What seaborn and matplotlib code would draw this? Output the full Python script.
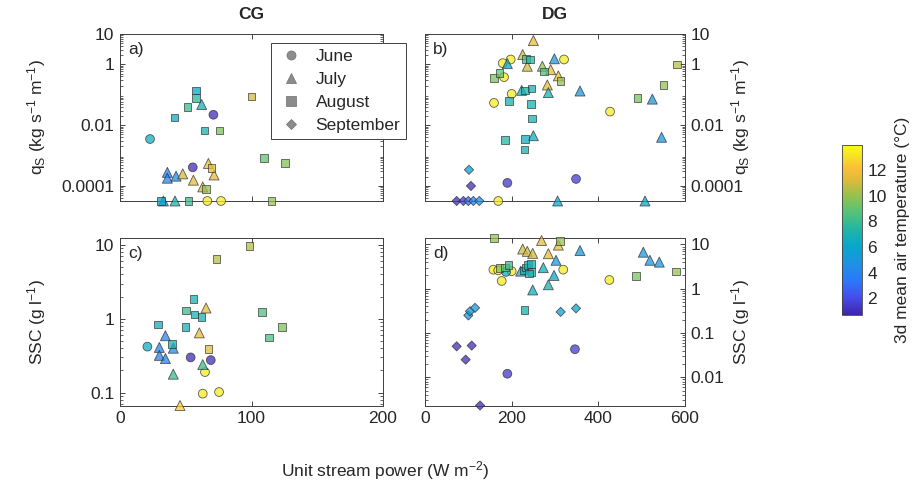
import numpy as np
import pandas as pd
import matplotlib
matplotlib.use("Agg")
import matplotlib.pyplot as plt
import seaborn as sns
from matplotlib.colors import LinearSegmentedColormap, Normalize
from matplotlib.cm import ScalarMappable
from matplotlib.lines import Line2D
from matplotlib.ticker import LogLocator, NullFormatter, FixedLocator, FixedFormatter

# ---------------- data ----------------
QS_FLOOR = 3.2e-5     # points drawn on the lower axis edge
SSC_D_FLOOR = 2.3e-3
SSC_D_CEIL = 14.0

months = ["June", "July", "August", "September"]

# a) CG, q_S
cg_qs_x = [22.8, 71, 55.3, 66.4, 76.8,
           62.1, 36, 36, 42.6, 47.7, 55.8, 67.2, 71.5, 62.9, 33, 41.8,
           57.8, 57.8, 51.2, 41.3, 64.1, 75.5, 100.1, 109.5, 125.5, 69.7, 65.4, 31.2, 52, 115.3]
cg_qs_y = [0.0035, 0.022, 0.00041, QS_FLOOR, QS_FLOOR,
           0.048, 0.00028, 0.00018, 0.00021, 0.00025, 0.000155, 0.00055, 0.00023, 0.000093, QS_FLOOR, QS_FLOOR,
           0.139, 0.079, 0.039, 0.018, 0.0066, 0.0066, 0.087, 0.00083, 0.00057, 0.00039, 0.000078, QS_FLOOR, QS_FLOOR, QS_FLOOR]
cg_qs_t = [6.5, 1.0, 1.0, 13.4, 13.4,
           7.0, 4.0, 4.0, 4.5, 11.0, 11.5, 11.5, 11.5, 11.0, 5.0, 7.0,
           6.0, 7.5, 8.0, 6.5, 7.0, 9.5, 11.0, 9.0, 9.5, 11.5, 10.0, 6.0, 8.0, 10.0]
cg_qs_m = ["June"] * 5 + ["July"] * 11 + ["August"] * 14

# c) CG, SSC
cg_ssc_x = [20.8, 53.7, 69, 64.6, 62.9, 75.3,
            65.4, 60.3, 34.5, 29.9, 40.5, 29.9, 34.5, 62.9, 40.5, 45.6,
            98.4, 73.5, 55.8, 50.2, 56.5, 62.1, 28.7, 49.7, 39.5, 67.4, 107.8, 123, 113.5]
cg_ssc_y = [0.42, 0.30, 0.276, 0.19, 0.097, 0.102,
            1.4, 0.645, 0.59, 0.41, 0.40, 0.32, 0.29, 0.24, 0.178, 0.067,
            9.7, 6.4, 1.85, 1.3, 1.14, 1.06, 0.84, 0.78, 0.46, 0.39, 1.24, 0.77, 0.56]
cg_ssc_t = [6.5, 1.0, 1.0, 13.4, 13.4, 13.4,
            11.5, 11.5, 4.0, 4.0, 4.5, 4.0, 4.0, 8.0, 8.0, 12.5,
            10.5, 10.5, 7.0, 8.0, 7.0, 7.0, 6.5, 7.0, 7.0, 11.5, 8.5, 9.5, 8.5]
cg_ssc_m = ["June"] * 6 + ["July"] * 10 + ["August"] * 13

# b) DG, q_S
dg_qs_x = [179.3, 197.7, 320.8, 182.3, 200, 159.2, 427, 190, 348.5, 169,
           250, 225.4, 190, 236, 270.8, 290, 298.5, 307.7, 282.3, 284.6, 357.7, 223, 250, 524.6, 546, 306, 507.7,
           233, 242, 274.6, 159, 171.5, 313, 230.8, 246, 193.8, 244.6, 246.2, 184.6, 230.8, 229.2, 490, 550, 582,
           101.5, 106, 73, 88.5, 100, 111.5, 125.3]
dg_qs_y = [1.1, 1.45, 1.45, 0.38, 0.107, 0.054, 0.028, 0.000126, 0.00017, QS_FLOOR,
           6.1, 2.1, 1.06, 0.87, 0.87, 0.67, 1.53, 0.42, 0.21, 0.118, 0.133, 0.14, 0.0045, 0.072, 0.004, QS_FLOOR, QS_FLOOR,
           1.5, 1.45, 0.59, 0.35, 0.52, 0.29, 0.14, 0.16, 0.061, 0.05, 0.0167, 0.0032, 0.0035, 0.0016, 0.078, 0.21, 0.99,
           0.00034, 0.0001, QS_FLOOR, QS_FLOOR, QS_FLOOR, QS_FLOOR, QS_FLOOR]
dg_qs_t = [13.4, 13.4, 13.4, 13.4, 13.4, 13.4, 13.4, 1.3, 1.5, 13.4,
           11.5, 11.0, 6.0, 11.0, 10.0, 11.5, 5.0, 11.5, 11.5, 7.0, 5.0, 7.0, 6.5, 5.0, 5.0, 6.0, 6.0,
           8.0, 7.5, 8.5, 9.5, 9.0, 10.0, 7.0, 7.0, 7.0, 7.0, 7.0, 7.5, 6.5, 7.0, 9.5, 10.0, 10.5,
           5.5, 1.0, 1.0, 1.5, 3.0, 4.0, 4.5]
dg_qs_m = ["June"] * 10 + ["July"] * 17 + ["August"] * 17 + ["September"] * 7

# d) DG, SSC
dg_ssc_x = [157.7, 169, 177, 200, 187, 319, 425.4, 346, 190,
            225.4, 236, 248.5, 269, 307.7, 284.6, 302.3, 357.7, 503.8, 519, 540.7, 220.8, 248.5, 273, 284.6, 297.7,
            159.2, 311.5, 171.5, 184.6, 192.3, 227, 233, 238, 244, 246, 240, 229.2, 487, 579,
            313, 348.5, 100, 103.8, 115.4, 73, 107.7, 93.8, 127]
dg_ssc_y = [2.7, 2.6, 1.5, 2.5, 2.4, 2.7, 1.58, 0.043, 0.012,
            7.9, 7.0, 6.3, 12.3, 9.7, 6.2, 4.4, 7.3, 6.7, 4.4, 4.0, 2.5, 0.94, 3.0, 1.23, 2.0,
            SSC_D_CEIL, 12.0, 2.95, 3.0, 3.4, 2.6, 3.0, 3.4, 3.6, 2.4, 2.2, 0.33, 1.96, 2.46,
            0.30, 0.36, 0.25, 0.31, 0.37, 0.05, 0.052, 0.025, SSC_D_FLOOR]
dg_ssc_t = [13.4, 13.4, 13.4, 13.4, 6.5, 13.4, 13.4, 1.5, 1.3,
            11.0, 11.0, 11.0, 11.5, 11.5, 11.5, 5.0, 5.0, 5.0, 5.0, 5.0, 6.5, 6.5, 6.5, 7.0, 6.0,
            10.0, 10.0, 9.5, 9.0, 8.0, 7.0, 7.0, 7.0, 7.0, 7.5, 7.0, 7.0, 9.5, 10.0,
            5.5, 6.0, 5.0, 5.0, 5.0, 1.0, 1.0, 1.0, 1.0]
dg_ssc_m = ["June"] * 9 + ["July"] * 16 + ["August"] * 14 + ["September"] * 9

temp_ticks = [2, 4, 6, 8, 10, 12]
temp_range = (0.7, 13.95)

# ---------------- style ----------------
sns.set_theme(style="ticks")
plt.rcParams["font.family"] = ["Liberation Sans", "DejaVu Sans"]
plt.rcParams["mathtext.fontset"] = "custom"
plt.rcParams["mathtext.rm"] = "Liberation Sans"
plt.rcParams["mathtext.it"] = "Liberation Sans:italic"
plt.rcParams["mathtext.default"] = "regular"
FS = 12.5
TXT = "#262626"

parula = LinearSegmentedColormap.from_list("parula", [
    (0.00, (0.2422, 0.1504, 0.6603)),
    (0.10, (0.2770, 0.2980, 0.9300)),
    (0.20, (0.1700, 0.4700, 0.9800)),
    (0.30, (0.1200, 0.5700, 0.8900)),
    (0.40, (0.0300, 0.6500, 0.8000)),
    (0.50, (0.1200, 0.7100, 0.6500)),
    (0.60, (0.3200, 0.7600, 0.4800)),
    (0.70, (0.5800, 0.7600, 0.3100)),
    (0.80, (0.8800, 0.7300, 0.2200)),
    (0.87, (0.9900, 0.7500, 0.2200)),
    (0.94, (0.9600, 0.8900, 0.1500)),
    (1.00, (0.9769, 0.9839, 0.0805)),
])
norm = Normalize(*temp_range)

MARK = {"June": "o", "July": "^", "August": "s", "September": "D"}
SIZE = {"June": 40, "July": 52, "August": 30, "September": 22}

fig = plt.figure(figsize=(9.17, 4.92), dpi=100)
ax_a = fig.add_axes([0.1309, 0.5915, 0.2868, 0.3394])
ax_b = fig.add_axes([0.4635, 0.5915, 0.2835, 0.3394])
ax_c = fig.add_axes([0.1309, 0.1758, 0.2868, 0.3404])
ax_d = fig.add_axes([0.4635, 0.1758, 0.2835, 0.3404])
cax = fig.add_axes([0.918, 0.3598, 0.0225, 0.3455])


def draw(ax, x, y, t, m):
    df = pd.DataFrame({"x": x, "y": y, "t": t, "m": m})
    for mo in months:
        sub = df[df["m"] == mo]
        if len(sub) == 0:
            continue
        sns.scatterplot(data=sub, x="x", y="y", hue="t", palette=parula, hue_norm=norm,
                        marker=MARK[mo], s=SIZE[mo], edgecolor="#2a2a2a", linewidth=0.6,
                        alpha=0.75, legend=False, ax=ax, clip_on=False, zorder=3)


def style(ax, xlim, xticks, ylim, yticks, ylabels, right=False, xlab=True):
    ax.set_yscale("log")
    ax.set_xlim(*xlim)
    ax.set_ylim(*ylim)
    ax.set_xticks(xticks)
    ax.set_xticklabels([str(v) for v in xticks] if xlab else [])
    ax.yaxis.set_major_locator(FixedLocator(yticks))
    ax.yaxis.set_major_formatter(FixedFormatter(ylabels))
    ax.yaxis.set_minor_locator(LogLocator(base=10, subs=np.arange(2, 10), numticks=100))
    ax.yaxis.set_minor_formatter(NullFormatter())
    ax.tick_params(axis="both", which="major", direction="in", length=3.5, width=0.6,
                   top=True, right=True, labelsize=FS, colors=TXT, pad=4)
    ax.tick_params(axis="y", which="minor", direction="in", length=2, width=0.5,
                   left=True, right=True)
    if right:
        ax.tick_params(axis="y", which="both", labelleft=False, labelright=True)
        ax.yaxis.set_label_position("right")
    for sp in ax.spines.values():
        sp.set_color("#404040")
        sp.set_linewidth(0.7)
    ax.set_xlabel("")
    ax.set_ylabel("")


draw(ax_a, cg_qs_x, cg_qs_y, cg_qs_t, cg_qs_m)
draw(ax_b, dg_qs_x, dg_qs_y, dg_qs_t, dg_qs_m)
draw(ax_c, cg_ssc_x, cg_ssc_y, cg_ssc_t, cg_ssc_m)
draw(ax_d, dg_ssc_x, dg_ssc_y, dg_ssc_t, dg_ssc_m)

qs_ticks = [1e-4, 1e-2, 1, 10]
qs_lab = ["0.0001", "0.01", "1", "10"]
style(ax_a, (0, 200), [0, 100, 200], (QS_FLOOR, 10), qs_ticks, qs_lab, xlab=False)
style(ax_b, (0, 600), [0, 200, 400, 600], (QS_FLOOR, 10), qs_ticks, qs_lab, right=True, xlab=False)
style(ax_c, (0, 200), [0, 100, 200], (0.067, 12.4), [0.1, 1, 10], ["0.1", "1", "10"])
style(ax_d, (0, 600), [0, 200, 400, 600], (SSC_D_FLOOR, SSC_D_CEIL), [0.01, 0.1, 1, 10],
      ["0.01", "0.1", "1", "10"], right=True)

qs_label = r"q$_{S}$ (kg s$^{-1}$ m$^{-1}$)"
ssc_label = r"SSC (g l$^{-1}$)"
for ax, lab, xc in [(ax_a, qs_label, -0.275), (ax_c, ssc_label, -0.275),
                    (ax_b, qs_label, 1.17), (ax_d, ssc_label, 1.17)]:
    ax.set_ylabel(lab, fontsize=FS, color=TXT)
    ax.yaxis.set_label_coords(xc, 0.5)

for ax, lab in [(ax_a, "a)"), (ax_b, "b)"), (ax_c, "c)"), (ax_d, "d)")]:
    ax.text(0.03, 0.95, lab, transform=ax.transAxes, ha="left", va="top",
            fontsize=FS, color=TXT, zorder=5)

ax_a.set_title("CG", fontsize=FS, fontweight="bold", color=TXT, pad=11)
ax_b.set_title("DG", fontsize=FS, fontweight="bold", color=TXT, pad=11)
fig.text(0.42, 0.043, r"Unit stream power (W m$^{-2}$)", ha="center", va="center",
         fontsize=FS, color=TXT)

handles = [Line2D([], [], marker=MARK[mo], linestyle="none", markersize=6.5 if mo != "September" else 5,
                  markerfacecolor="#8c8c8c", markeredgecolor="#6e6e6e", markeredgewidth=0.5)
           for mo in months]
leg = ax_a.legend(handles, months, loc="upper left", bbox_to_anchor=(0.575, 0.945),
                  fontsize=FS, frameon=True, fancybox=False, framealpha=1,
                  edgecolor="#404040", borderpad=0.35, labelspacing=0.45,
                  handletextpad=0.6, handlelength=1.6, borderaxespad=0)
leg.get_frame().set_linewidth(0.7)
leg.set_zorder(10)
leg.set_clip_on(False)

sm = ScalarMappable(norm=norm, cmap=parula)
cb = fig.colorbar(sm, cax=cax, ticks=temp_ticks)
cb.ax.tick_params(labelsize=FS, colors=TXT, direction="in", length=3, width=0.5)
cb.outline.set_edgecolor("#404040")
cb.outline.set_linewidth(0.6)
cb.set_label("3d mean air temperature (°C)", fontsize=FS, color=TXT, labelpad=6)

fig.savefig("out.png", dpi=100)
